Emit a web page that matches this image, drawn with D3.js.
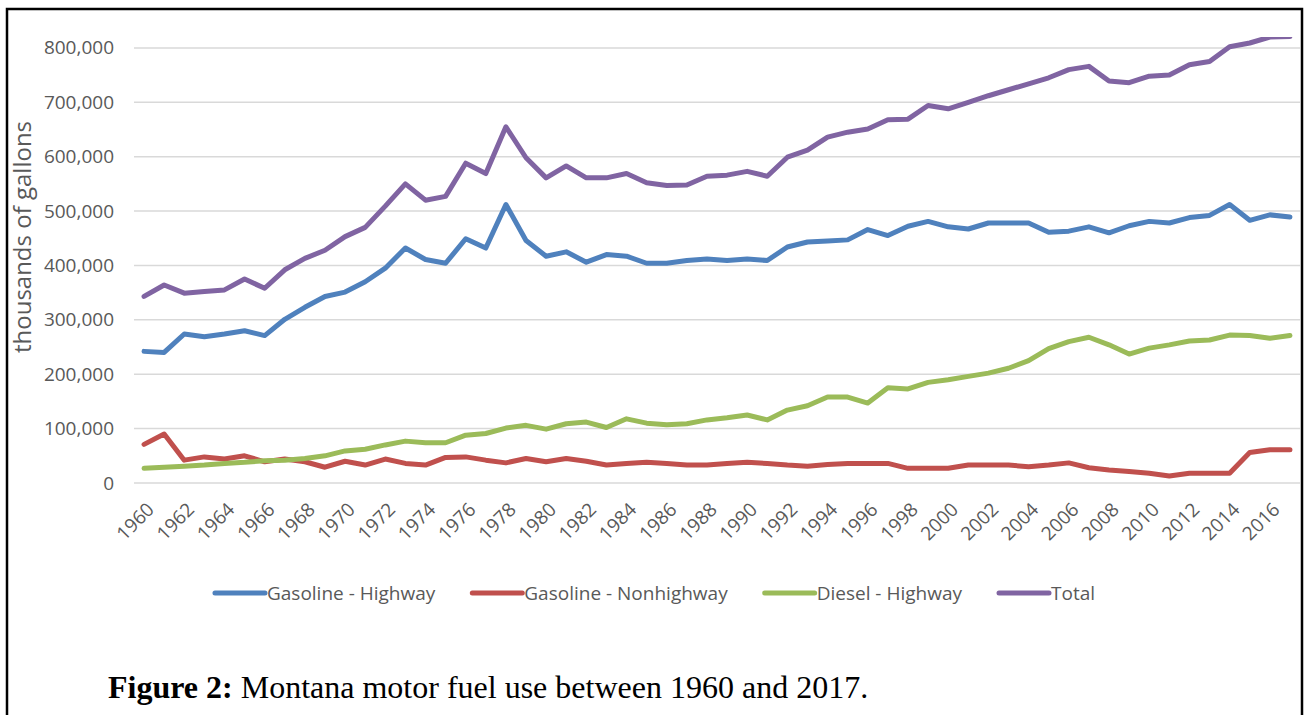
<!DOCTYPE html>
<html>
<head>
<meta charset="utf-8">
<script src="https://cdn.jsdelivr.net/npm/d3@7"></script>
<style>
  body { margin: 0; background: #fff; }
  svg { display: block; }
  .tick-label { font-family: "Open Sans", sans-serif; font-size: 19px; fill: #595959; }
</style>
</head>
<body>
<svg id="chart"></svg>
<script>
/* data, thousands of gallons */
var years = [1960,1961,1962,1963,1964,1965,1966,1967,1968,1969,1970,1971,1972,1973,1974,1975,1976,1977,1978,1979,
  1980,1981,1982,1983,1984,1985,1986,1987,1988,1989,1990,1991,1992,1993,1994,1995,1996,1997,1998,1999,
  2000,2001,2002,2003,2004,2005,2006,2007,2008,2009,2010,2011,2012,2013,2014,2015,2016,2017];

var gasHighway = [242000,240000,274000,269000,274000,280000,271000,301000,323000,343000,351000,370000,
  395000,432000,411000,404000,449000,432000,512000,446000,417000,425000,406000,
  420000,417000,404000,404000,409000,412000,409000,412000,409000,434000,443000,445000,
  447000,466000,455000,472000,481000,471000,467000,478000,478000,478000,461000,
  463000,471000,460000,473000,481000,478000,488000,492000,512000,483000,493000,489000];

var gasNonhighway = [71000,90000,42000,48000,44000,50000,39000,44000,39000,29000,40000,33000,
  44000,36000,33000,47000,48000,42000,37000,45000,39000,45000,40000,
  33000,36000,38000,36000,33000,33000,36000,38000,36000,33000,31000,34000,
  36000,36000,36000,27000,27000,27000,33000,33000,33000,30000,33000,
  37000,28000,24000,21000,18000,13000,18000,18000,18000,56000,61000,61000];

var dieselHighway = [27000,29000,31000,33000,36000,38000,41000,42000,45000,50000,59000,62000,
  70000,77000,74000,74000,88000,91000,101000,106000,99000,109000,112000,
  102000,118000,110000,107000,109000,116000,120000,125000,116000,134000,142000,158000,
  158000,147000,175000,173000,185000,190000,196000,202000,211000,225000,247000,
  260000,268000,254000,237000,248000,254000,261000,263000,272000,271000,266000,271000];

var total = [343000,364000,349000,352000,355000,375000,358000,392000,413000,428000,453000,470000,
  509000,550000,520000,527000,588000,569000,655000,598000,561000,583000,561000,
  561000,569000,552000,547000,548000,564000,566000,573000,564000,599000,612000,636000,
  645000,651000,668000,669000,694000,688000,700000,712000,723000,734000,745000,
  760000,766000,739000,736000,748000,750000,769000,775000,802000,809000,820000,821000];

var seriesNames = ["Gasoline - Highway", "Gasoline - Nonhighway", "Diesel - Highway", "Total"];
var seriesColors = ["#4f81bd", "#c0504d", "#9bbb59", "#8064a2"];
var yTicks = [0, 100000, 200000, 300000, 400000, 500000, 600000, 700000, 800000];
var xTickYears = years.filter(function (d) { return d % 2 === 0; });

var series = [gasHighway, gasNonhighway, dieselHighway, total];

/* settings */
var width = 1304,
    height = 715,
    plot = { left: 134, right: 1300, top: 37, bottom: 483 };

var svg = d3.select("#chart")
    .attr("width", width)
    .attr("height", height);

svg.append("rect")
    .attr("width", width).attr("height", height)
    .attr("fill", "#fff");

/* frame round the figure */
svg.append("path")
    .attr("d", "M7,716 V9 H1302 V716")
    .attr("fill", "none")
    .attr("stroke", "#000")
    .attr("stroke-width", 2.5);

/* scales */
var xScale = d3.scalePoint()
    .domain(years)
    .range([plot.left, plot.right])
    .padding(0.5);

var yScale = d3.scaleLinear()
    .domain([0, 820000])
    .range([plot.bottom, plot.top]);

/* gridlines */
svg.append("g")
    .attr("class", "grid")
    .selectAll("line")
    .data(yTicks)
    .enter().append("line")
      .attr("x1", plot.left)
      .attr("x2", plot.right)
      .attr("y1", function (d) { return yScale(d); })
      .attr("y2", function (d) { return yScale(d); })
      .attr("stroke", "#d9d9d9")
      .attr("stroke-width", 1.5);

/* y-axis */
var yAxis = d3.axisLeft(yScale)
    .tickValues(yTicks)
    .tickFormat(d3.format(","))
    .tickSize(0)
    .tickPadding(20);

var yAxisG = svg.append("g")
    .attr("class", "y-axis")
    .attr("transform", "translate(" + (plot.left) + ",0)")
    .call(yAxis);
yAxisG.select(".domain").remove();
yAxisG.selectAll("text").attr("class", "tick-label");

svg.append("text")
    .attr("class", "tick-label")
    .attr("transform", "translate(31,237) rotate(-90)")
    .style("text-anchor", "middle")
    .style("font-size", "24px")
    .text("thousands of gallons");

/* x-axis */
var xAxis = d3.axisBottom(xScale)
    .tickValues(xTickYears)
    .tickSize(0)
    .tickPadding(0);

var xAxisG = svg.append("g")
    .attr("class", "x-axis")
    .attr("transform", "translate(0," + plot.bottom + ")")
    .call(xAxis);
xAxisG.select(".domain").remove();
xAxisG.selectAll("text")
    .attr("class", "tick-label")
    .attr("x", 0)
    .attr("y", 0)
    .attr("dy", "0.35em")
    .attr("transform", "translate(6,23) rotate(-45)")
    .style("text-anchor", "end");

/* lines */
svg.append("clipPath")
    .attr("id", "plot-area")
  .append("rect")
    .attr("x", plot.left)
    .attr("y", plot.top)
    .attr("width", plot.right - plot.left)
    .attr("height", plot.bottom - plot.top + 10);

var line = d3.line()
    .x(function (d, i) { return xScale(years[i]); })
    .y(function (d) { return yScale(d); });

svg.append("g")
    .attr("clip-path", "url(#plot-area)")
    .selectAll("path")
    .data(series)
    .enter().append("path")
      .attr("d", line)
      .attr("fill", "none")
      .attr("stroke", function (d, i) { return seriesColors[i]; })
      .attr("stroke-width", 5)
      .attr("stroke-linejoin", "round")
      .attr("stroke-linecap", "round");

/* legend, centred on the chart area */
var legend = svg.append("g").attr("class", "legend");
var items = legend.selectAll("g")
    .data(seriesNames)
    .enter().append("g");

items.append("line")
    .attr("x1", 0).attr("x2", 50)
    .attr("y1", 0).attr("y2", 0)
    .attr("stroke", function (d, i) { return seriesColors[i]; })
    .attr("stroke-width", 5)
    .attr("stroke-linecap", "round");

items.append("text")
    .attr("class", "tick-label")
    .attr("x", 52)
    .attr("dy", "0.35em")
    .text(function (d) { return d; });

var xPos = 0, offsets = [];
items.each(function () {
    offsets.push(xPos);
    xPos += 52 + d3.select(this).select("text").node().getComputedTextLength() + 37;
});
var legendWidth = xPos - 37;
items.attr("transform", function (d, i) { return "translate(" + offsets[i] + ",0)"; });
legend.attr("transform", "translate(" + (655 - legendWidth / 2) + ",593)");

/* caption */
var caption = svg.append("text")
    .attr("x", 108)
    .attr("y", 698)
    .style("font-family", "'Liberation Serif', 'Times New Roman', serif")
    .style("font-size", "32px")
    .style("fill", "#000");
caption.append("tspan").style("font-weight", "bold").text("Figure 2:");
caption.append("tspan").text(" Montana motor fuel use between 1960 and 2017.");
</script>
</body>
</html>
